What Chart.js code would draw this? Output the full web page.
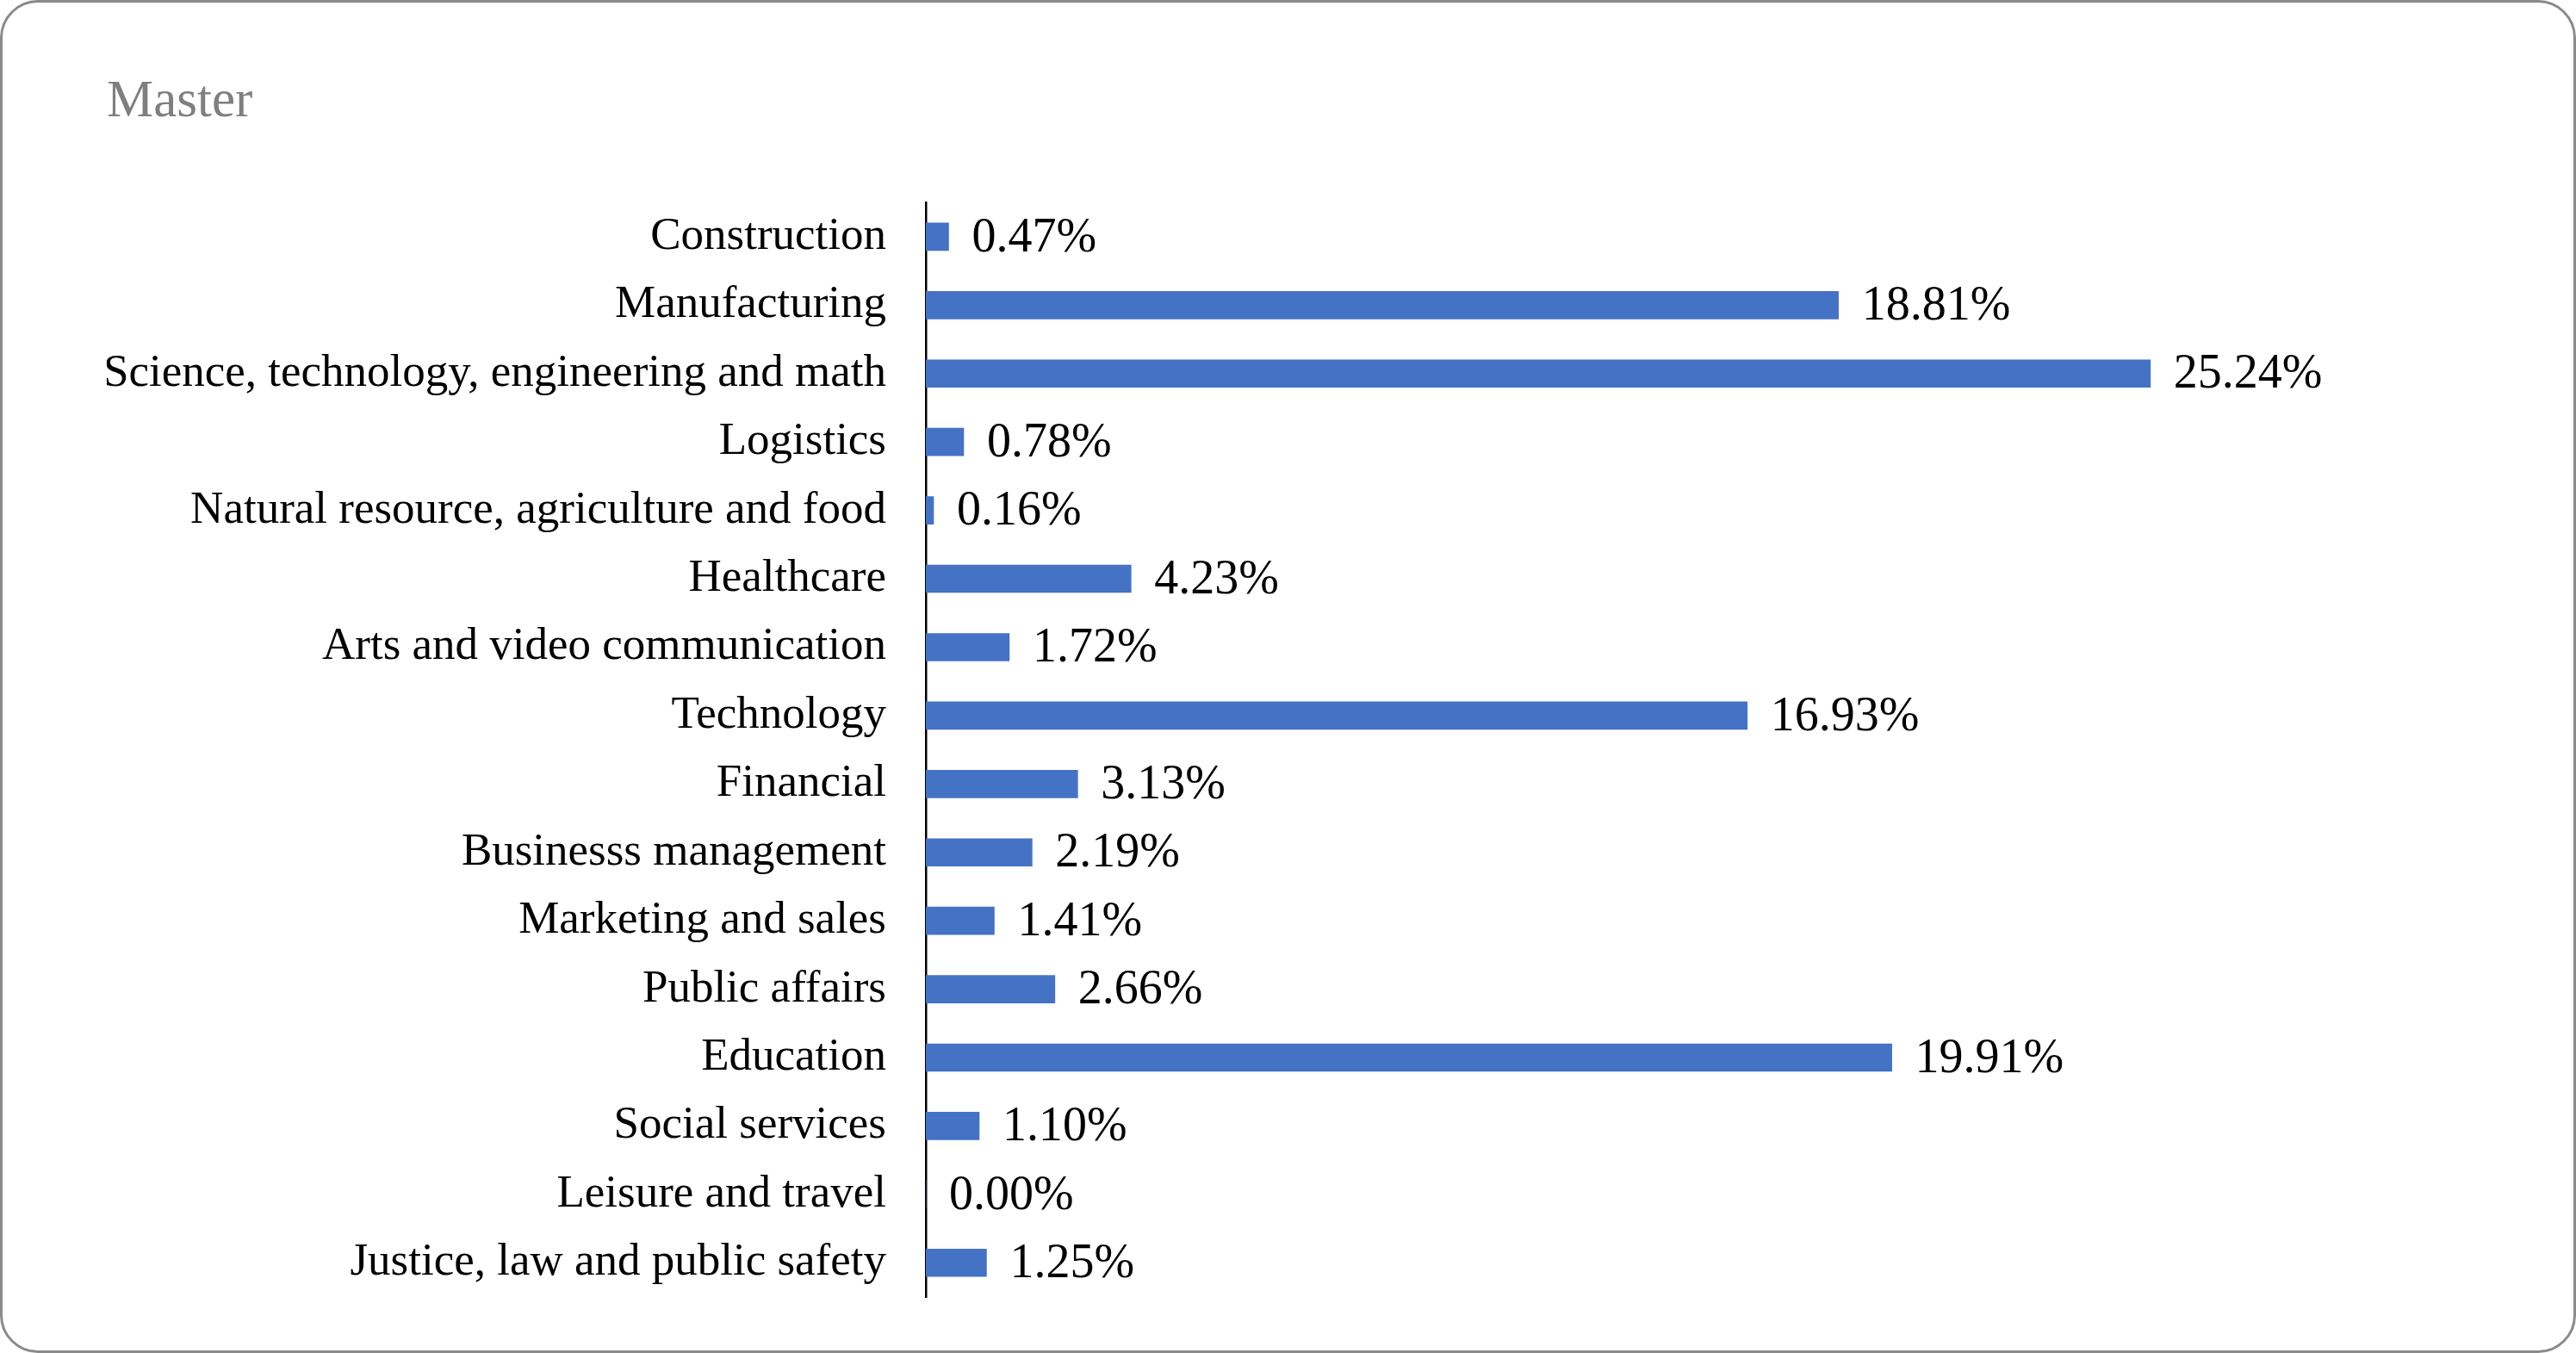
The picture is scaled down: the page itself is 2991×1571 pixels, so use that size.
<!DOCTYPE html>
<html>
<head>
<meta charset="utf-8">
<script src="https://cdn.jsdelivr.net/npm/chart.js@4/dist/chart.umd.min.js"></script>
<style>
  html, body { margin: 0; padding: 0; background: #fff; }
  .frame {
    position: relative; width: 2991px; height: 1571px; box-sizing: border-box;
    border: 3px solid #8a8a8a; border-radius: 44px; overflow: hidden; background: #fff;
  }
  .frame canvas { position: absolute; left: -3px; top: -3px; }
</style>
</head>
<body>
<div class="frame"><canvas id="chart" width="2991" height="1571"></canvas></div>
<script>
// категории и значения, сверху вниз
const categories = [
  "Construction", "Manufacturing", "Science, technology, engineering and math", "Logistics",
  "Natural resource, agriculture and food", "Healthcare", "Arts and video communication",
  "Technology", "Financial", "Businesss management", "Marketing and sales", "Public affairs",
  "Education", "Social services", "Leisure and travel", "Justice, law and public safety"
];
const shares = [0.47, 18.81, 25.24, 0.78, 0.16, 4.23, 1.72, 16.93, 3.13, 2.19, 1.41, 2.66, 19.91, 1.10, 0.00, 1.25];
const chartTitle = "Master";

// подписи значений справа от столбцов
const valueLabels = {
  id: 'valueLabels',
  afterDatasetsDraw(chart) {
    const ctx = chart.ctx;
    const meta = chart.getDatasetMeta(0);
    ctx.save();
    ctx.font = '56px "Liberation Serif", "Times New Roman", serif';
    ctx.fillStyle = '#000';
    ctx.textAlign = 'left';
    ctx.textBaseline = 'middle';
    meta.data.forEach((bar, i) => {
      ctx.fillText(shares[i].toFixed(2) + '%', bar.x + 27, bar.y + 2);
    });
    ctx.restore();
  }
};

new Chart(document.getElementById('chart'), {
  type: 'bar',
  data: {
    labels: categories,
    datasets: [{
      data: shares,
      backgroundColor: '#4472C4',
      borderWidth: 0,
      barThickness: 32
    }]
  },
  options: {
    indexAxis: 'y',
    responsive: false,
    animation: false,
    layout: { padding: { left: 124, right: 226, top: 0, bottom: 65 } },
    plugins: {
      legend: { display: false },
      tooltip: { enabled: false },
      title: {
        display: true,
        text: chartTitle,
        align: 'start',
        color: '#7f7f7f',
        font: { family: '"Liberation Serif", serif', size: 61, weight: 'normal' },
        padding: { top: 82, bottom: 80 }
      }
    },
    scales: {
      x: { display: false, min: 0, max: 30 },
      y: {
        afterFit: (scale) => {
          scale.width = 951;
          // не даём подписям раздувать отступы сверху и снизу
          scale.paddingTop = 0;
          scale.paddingBottom = 0;
        },
        grid: { display: false, drawTicks: false },
        border: { display: true, color: '#000', width: 2.5 },
        ticks: {
          color: '#000',
          padding: 46,
          autoSkip: false,
          font: { family: '"Liberation Serif", serif', size: 53 }
        }
      }
    }
  },
  plugins: [valueLabels]
});
</script>
</body>
</html>
